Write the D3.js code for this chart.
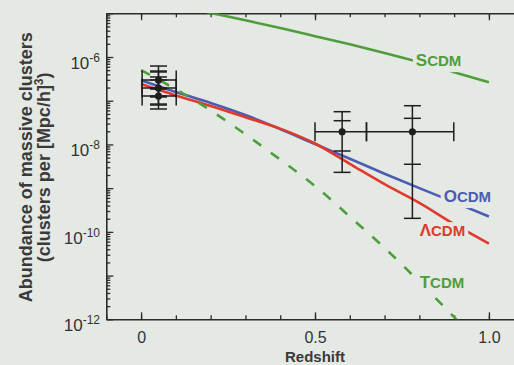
<!DOCTYPE html>
<html>
<head>
<meta charset="utf-8">
<script src="https://cdn.jsdelivr.net/npm/d3@7"></script>
<style>
  html, body { margin: 0; padding: 0; background: #e5e9e4; }
  svg { display: block; }
  text { font-family: "Liberation Sans", Arial, Helvetica, sans-serif; }
</style>
</head>
<body>
<svg id="chart" width="514" height="365"></svg>
<script>
// ---------- data ----------
const redshift = [0, 0.1, 0.2, 0.3, 0.4, 0.5, 0.6, 0.7, 0.8, 0.9, 1.0];
const scdm = [2.24e-5, 1.51e-5, 1.02e-5, 6.9e-6, 4.6e-6, 3.0e-6, 1.95e-6, 1.23e-6, 7.6e-7, 4.5e-7, 2.63e-7];
const ocdm = [2.95e-7, 1.58e-7, 8.9e-8, 4.7e-8, 2.24e-8, 1.02e-8, 4.7e-9, 2.14e-9, 1.0e-9, 4.8e-10, 2.24e-10];
const lcdm = [2.4e-7, 1.32e-7, 7.6e-8, 4.2e-8, 2.3e-8, 1.05e-8, 3.6e-9, 1.23e-9, 4.6e-10, 1.5e-10, 5.4e-11];
const tcdm = [5.0e-7, 1.82e-7, 6.0e-8, 1.7e-8, 4.5e-9, 1.12e-9, 2.24e-10, 4.3e-11, 7.2e-12, 1.12e-12, 1.6e-13];

const modelNames = ["SCDM", "OCDM", "\u039BCDM", "TCDM"];
const modelFirst = ["S", "O", "\u039B", "T"];
const modelRest = ["CDM", "CDM", "CDM", "CDM"];
const modelLabelZ = [0.79, 0.870, 0.801, 0.801];
const modelLabelN = [6.2e-7, 4.8e-10, 8.0e-11, 5.2e-12];

// observed clusters
const obsZ       = [0.05, 0.05, 0.05, 0.578, 0.78];
const obsZlo     = [0.003, 0.003, 0.003, 0.50, 0.648];
const obsZhi     = [0.101, 0.101, 0.101, 0.648, 0.899];
const obsN       = [2.98e-7, 1.95e-7, 1.28e-7, 1.95e-8, 1.95e-8];
const obsInnerHi = [4.78e-7, 2.98e-7, 1.95e-7, 3.49e-8, 3.96e-8];
const obsInnerLo = [1.85e-7, 1.28e-7, 8.4e-8, 7.08e-9, 3.52e-9];
const obsOuterHi = [6.22e-7, 4.55e-7, 3.5e-7, 5.61e-8, 7.69e-8];
const obsOuterLo = [1.22e-7, 7.98e-8, 6.47e-8, 2.30e-9, 2.04e-10];

const xTickMajor = [0, 0.5, 1.0];
const xTickLabels = ["0", "0.5", "1.0"];
const yLabelExp = [-6, -8, -10, -12];

// ---------- layout ----------
const bg = "#e5e9e4";
const axisColor = "#2b2b2b";
const green = "#4f9d3c", blue = "#4b5db3", red = "#df3a2b";
const colors = [green, blue, red, green];

const svg = d3.select("#chart");
svg.append("rect").attr("width", 514).attr("height", 365).attr("fill", bg);

const x = d3.scaleLinear().domain([-0.1, 1.1]).range([106.3, 523.7]);
const y = d3.scaleLog().domain([1e-12, 1e-5]).range([319.3, 13.3]);

const plotL = x(-0.1), plotR = x(1.1), plotT = y(1e-5), plotB = y(1e-12);

svg.append("clipPath").attr("id", "clip")
  .append("rect").attr("x", plotL).attr("y", plotT)
  .attr("width", plotR - plotL).attr("height", plotB - plotT);

// ---------- axes ----------
const xMinor = d3.range(-0.1, 1.101, 0.1).map(v => +v.toFixed(2));
const bottomAxis = d3.axisBottom(x).tickValues(xMinor).tickSizeInner(-4).tickSizeOuter(0).tickFormat("");
const topAxis = d3.axisTop(x).tickValues(xMinor).tickSizeInner(-4).tickSizeOuter(0).tickFormat("");
const bottomMajor = d3.axisBottom(x).tickValues(xTickMajor).tickSizeInner(-7).tickSizeOuter(0)
  .tickFormat((d, i) => xTickLabels[i]).tickPadding(12);
const topMajor = d3.axisTop(x).tickValues(xTickMajor).tickSizeInner(-7).tickSizeOuter(0).tickFormat("");

function styleAxis(g) {
  g.select(".domain").attr("stroke", axisColor).attr("stroke-width", 1.6);
  g.selectAll(".tick line").attr("stroke", axisColor).attr("stroke-width", 1.3);
  g.selectAll(".tick text").attr("fill", "#333").attr("font-size", 16)
    .attr("font-family", "Liberation Sans, Arial, sans-serif");
}

svg.append("g").attr("transform", `translate(0,${plotB})`).call(bottomAxis).call(styleAxis);
svg.append("g").attr("transform", `translate(0,${plotB})`).call(bottomMajor).call(styleAxis)
  .select(".domain").remove();
svg.append("g").attr("transform", `translate(0,${plotT})`).call(topAxis).call(styleAxis);
svg.append("g").attr("transform", `translate(0,${plotT})`).call(topMajor).call(styleAxis)
  .select(".domain").remove();

// y axis (log) with minor ticks
const yMinorVals = [];
for (let e = -12; e < -5; e++) for (let m = 2; m <= 9; m++) yMinorVals.push(m * Math.pow(10, e));
const yMajorVals = d3.range(-12, -4).map(e => Math.pow(10, e));
const leftMinor = d3.axisLeft(y).tickValues(yMinorVals).tickSizeInner(-4).tickSizeOuter(0).tickFormat("");
const leftMajor = d3.axisLeft(y).tickValues(yMajorVals).tickSizeInner(-7).tickSizeOuter(0).tickFormat("");
svg.append("g").attr("transform", `translate(${plotL},0)`).call(leftMinor).call(styleAxis);
svg.append("g").attr("transform", `translate(${plotL},0)`).call(leftMajor).call(styleAxis)
  .select(".domain").remove();

// y tick labels 10^n
yLabelExp.forEach(e => {
  const t = svg.append("text")
    .attr("x", 100).attr("y", y(Math.pow(10, e)) + 12)
    .attr("text-anchor", "end").attr("fill", "#333").attr("font-size", 17);
  t.append("tspan").text("10");
  t.append("tspan").attr("dy", -7).attr("font-size", 12).text("-" + Math.abs(e));
});

// axis titles
svg.append("text")
  .attr("transform", `translate(32,${(plotT + plotB) / 2 + 1}) rotate(-90)`)
  .attr("text-anchor", "middle").attr("font-weight", "bold").attr("font-size", 18)
  .attr("fill", "#3a3a3a").text("Abundance of massive clusters");
const t2 = svg.append("text")
  .attr("transform", `translate(50,${(plotT + plotB) / 2 + 1}) rotate(-90)`)
  .attr("text-anchor", "middle").attr("font-weight", "bold").attr("font-size", 18)
  .attr("fill", "#3a3a3a");
t2.append("tspan").text("(clusters per [Mpc/h]");
t2.append("tspan").attr("dy", -7).attr("font-size", 12).text("3");
t2.append("tspan").attr("dy", 7).text(")");

svg.append("text")
  .attr("x", x(0.5)).attr("y", 361.5)
  .attr("text-anchor", "middle").attr("font-weight", "bold").attr("font-size", 15)
  .attr("fill", "#3a3a3a").text("Redshift");

// ---------- model curves ----------
const series = [scdm, ocdm, lcdm, tcdm];
const line = d3.line()
  .x(d => x(d[0])).y(d => y(d[1]))
  .curve(d3.curveMonotoneX);

const curves = svg.append("g").attr("clip-path", "url(#clip)");
series.forEach((s, i) => {
  curves.append("path")
    .datum(redshift.map((z, j) => [z, s[j]]))
    .attr("d", line)
    .attr("fill", "none")
    .attr("stroke", colors[i])
    .attr("stroke-width", 2.6)
    .attr("stroke-linecap", "butt")
    .attr("stroke-dasharray", i === 3 ? "10,12" : null);
});

// ---------- observations ----------
const obs = svg.append("g").attr("stroke", "#1e1e1e").attr("stroke-width", 1.5);
const capH = 8.5, capV = 9.5;
obsZ.forEach((z, i) => {
  const cx = x(z), cy = y(obsN[i]);
  obs.append("line").attr("x1", x(obsZlo[i])).attr("x2", x(obsZhi[i])).attr("y1", cy).attr("y2", cy);
  [obsZlo[i], obsZhi[i]].forEach(v => {
    obs.append("line").attr("x1", x(v)).attr("x2", x(v)).attr("y1", cy - capV).attr("y2", cy + capV);
  });
  obs.append("line").attr("x1", cx).attr("x2", cx).attr("y1", y(obsOuterHi[i])).attr("y2", y(obsOuterLo[i]));
  [obsInnerHi[i], obsInnerLo[i], obsOuterHi[i], obsOuterLo[i]].forEach(v => {
    obs.append("line").attr("x1", cx - capH).attr("x2", cx + capH).attr("y1", y(v)).attr("y2", y(v));
  });
  obs.append("circle").attr("cx", cx).attr("cy", cy).attr("r", 3.6)
    .attr("fill", "#1e1e1e").attr("stroke", "none");
});

// ---------- labels ----------
modelNames.forEach((name, i) => {
  const g = svg.append("g");
  const t = g.append("text")
    .attr("x", x(modelLabelZ[i])).attr("y", y(modelLabelN[i]))
    .attr("font-weight", "bold").attr("fill", colors[i]);
  t.append("tspan").attr("font-size", 17).text(modelFirst[i]);
  t.append("tspan").attr("font-size", 15).text(modelRest[i]);
  const b = t.node().getBBox();
  g.insert("rect", "text")
    .attr("x", b.x - 3).attr("y", b.y + 1)
    .attr("width", b.width + 6).attr("height", b.height + 1)
    .attr("fill", bg);
});
</script>
</body>
</html>
